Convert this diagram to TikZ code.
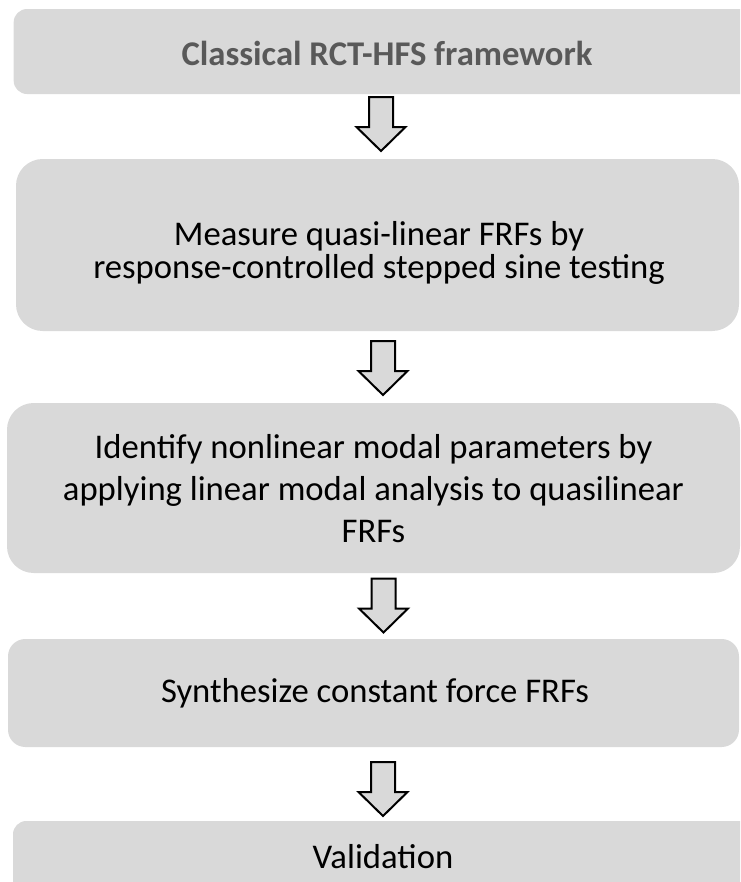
\documentclass[tikz,border=0pt]{standalone}
\usepackage{fontspec}
\setmainfont{Carlito}
\usetikzlibrary{positioning}
\definecolor{boxgray}{RGB}{217,217,217}
\definecolor{titlegray}{RGB}{89,89,89}

\tikzset{
    stepbox/.style={fill=boxgray, inner sep=0pt, outer sep=0pt},
    steptext/.style={align=center, inner sep=0pt, font=\fontsize{26}{27}\selectfont},
    arrowline/.style={draw=black, line width=1.5pt, fill=boxgray, line join=miter},
    % hollow block arrow pointing down, centred on the pic position
    pics/flowarrow/.style={code={
        \draw[arrowline] (-12,-27) -- (12,-27) -- (12,3) -- (24.5,3) -- (0,27)
            -- (-24.5,3) -- (-12,3) -- cycle;
    }},
}

\begin{document}
\begin{tikzpicture}[x=0.75pt, y=-0.75pt]
    \useasboundingbox (0,0) rectangle (740,882);
    \clip (0,0) rectangle (740,882);

    % process boxes
    \node[stepbox, rounded corners=10pt, minimum width=560pt, minimum height=63.75pt] (b1) at (387,51.5) {};
    \node[stepbox, rounded corners=20pt, minimum width=542.25pt, minimum height=129pt] (b2) at (377.5,245) {};
    \node[stepbox, rounded corners=20pt, minimum width=549.75pt, minimum height=127.5pt] (b3) at (373.5,488) {};
    \node[stepbox, rounded corners=13pt, minimum width=548.25pt, minimum height=81pt] (b4) at (373.5,693) {};
    \node[stepbox, rounded corners=10pt, minimum width=555pt, minimum height=60pt] (b5) at (383,861) {};

    % labels
    \node[steptext, font=\fontsize{26}{27}\bfseries, text=titlegray] (t1) at (387,53) {Classical RCT-HFS framework};
    \node[steptext, font=\fontsize{26}{24.75}\selectfont] (t2) at (379,253) {Measure quasi-linear FRFs by\\response-controlled stepped sine testing};
    \node[steptext, font=\fontsize{26}{31.5}\selectfont] (t3) at (373.5,489) {Identify nonlinear modal parameters by\\applying linear modal analysis to quasilinear\\FRFs};
    \node[steptext] (t4) at (375,693) {Synthesize constant force FRFs};
    \node[steptext] (t5) at (383,857) {Validation};

    % block arrows between the steps
    \pic (a1) at (381,124) {flowarrow};
    \pic (a2) at (383,368) {flowarrow};
    \pic (a3) at (383.5,605.5) {flowarrow};
    \pic (a4) at (383,789) {flowarrow};
\end{tikzpicture}
\end{document}
